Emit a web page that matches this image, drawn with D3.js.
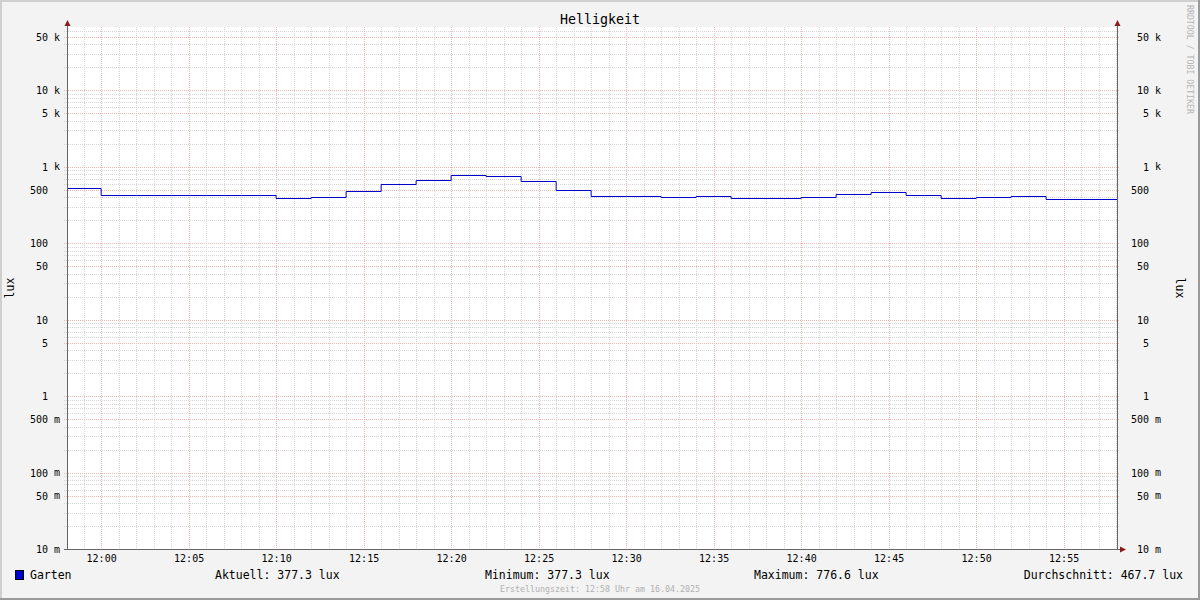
<!DOCTYPE html>
<html><head><meta charset="utf-8">
<script src="https://cdn.jsdelivr.net/npm/d3@7"></script>
<style>
html,body{margin:0;padding:0;background:#f3f3f3;}
svg{display:block;}
text{font-family:"DejaVu Sans Mono",monospace;}
</style></head>
<body>
<svg id="chart" width="1200" height="600"></svg>
<script>
// ---- data ----
const title = "Helligkeit";
const unitLabel = "lux";
const seriesName = "Garten";
const stepStarts = ["11:58","12:00","12:02","12:04","12:06","12:08","12:10","12:12","12:14","12:16",
  "12:18","12:20","12:22","12:24","12:26","12:28","12:30","12:32","12:34","12:36",
  "12:38","12:40","12:42","12:44","12:46","12:48","12:50","12:52","12:54","12:56"];
const luxValues = [522,428,428,428,428,428,388,400,483,591,
  667,776.6,759,647,493,416,416,403,413,388,
  388,400,437,465,428,388,403,416,377.3,377.3];
const yTickValues = [0.01,0.05,0.1,0.5,1,5,10,50,100,500,1000,5000,10000,50000];
const xTickLabels = ["12:00","12:05","12:10","12:15","12:20","12:25","12:30","12:35","12:40","12:45","12:50","12:55"];
const legendStats = [["Aktuell","377.3 lux"],["Minimum","377.3 lux"],["Maximum","776.6 lux"],["Durchschnitt","467.7 lux"]];
const footer = "Erstellungszeit: 12:58 Uhr am 16.04.2025";
const watermark = "RRDTOOL / TOBI OETIKER";
const timeStart = "11:58:03", timeEnd = "12:58:03";

// ---- layout ----
const W = 1200, H = 600;
const L = 67, R = 1117, T = 27, B = 549;
const svg = d3.select("#chart");
const parse = d3.timeParse("%Y-%m-%d %H:%M:%S");
const toDate = s => parse("2025-04-16 " + (s.length === 5 ? s + ":00" : s));

// background + border
svg.append("rect").attr("width", W).attr("height", H).attr("fill", "#f3f3f3");
svg.append("path").attr("d", `M1,${H} V1 H${W}`).attr("stroke", "#cfcfcf").attr("stroke-width", 2).attr("fill", "none");
svg.append("path").attr("d", `M0,${H-1} H${W-1} V0`).attr("stroke", "#9a9a9a").attr("stroke-width", 2).attr("fill", "none");
svg.append("rect").attr("x", L).attr("y", T).attr("width", R - L).attr("height", B - T).attr("fill", "#ffffff");

const x = d3.scaleTime().domain([toDate(timeStart), toDate(timeEnd)]).range([L, R]);
const y = d3.scaleLog().domain([0.01, 67600]).range([B, T]);

const minorCol = "#d6d6d6", majorCol = "#ebb8b8";
// minor horizontal grid
const minorY = [];
for (let e = -2; e <= 4; e++) for (let m = 2; m <= 9; m++) {
  const v = m * Math.pow(10, e);
  if (m !== 5 && v < y.domain()[1]) minorY.push(v);
}
const g = svg.append("g");
g.selectAll("line.hmin").data(minorY).join("line")
  .attr("x1", L - 3).attr("x2", R + 3)
  .attr("y1", d => Math.round(y(d)) + 0.5).attr("y2", d => Math.round(y(d)) + 0.5)
  .attr("stroke", minorCol).attr("stroke-dasharray", "1,1");
// minor vertical grid (each minute)
const minutes = d3.timeMinute.range(x.domain()[0], x.domain()[1]).filter(d => d.getMinutes() % 5 !== 0);
g.selectAll("line.vmin").data(minutes).join("line")
  .attr("x1", d => Math.round(x(d)) + 0.5).attr("x2", d => Math.round(x(d)) + 0.5)
  .attr("y1", T).attr("y2", B)
  .attr("stroke", minorCol).attr("stroke-dasharray", "1,1");
// major grid
const majorX = xTickLabels.map(toDate);
g.selectAll("line.vmaj").data(majorX).join("line")
  .attr("x1", d => Math.round(x(d)) + 0.5).attr("x2", d => Math.round(x(d)) + 0.5)
  .attr("y1", T).attr("y2", B)
  .attr("stroke", majorCol).attr("stroke-dasharray", "1,1");
g.selectAll("line.hmaj").data(yTickValues).join("line")
  .attr("x1", L - 3).attr("x2", R + 3)
  .attr("y1", d => Math.round(y(d)) + 0.5).attr("y2", d => Math.round(y(d)) + 0.5)
  .attr("stroke", majorCol).attr("stroke-dasharray", "1,1");

// data line
const pts = stepStarts.map((s, i) => [toDate(s), luxValues[i]]);
pts.push([x.domain()[1], luxValues[luxValues.length - 1]]);
svg.append("clipPath").attr("id", "clip").append("rect").attr("x", L).attr("y", T).attr("width", R - L).attr("height", B - T);
svg.append("path").datum(pts)
  .attr("clip-path", "url(#clip)")
  .attr("d", d3.line().x(d => x(d[0])).y(d => Math.round(y(d[1])) + 0.5).curve(d3.curveStepAfter))
  .attr("fill", "none").attr("stroke", "#0000cc").attr("stroke-width", 1);

// axes lines
const axisCol = "#666666", arrowCol = "#8b1a1a";
svg.append("line").attr("x1", L + 0.5).attr("x2", L + 0.5).attr("y1", 24).attr("y2", B).attr("stroke", axisCol);
svg.append("line").attr("x1", R + 0.5).attr("x2", R + 0.5).attr("y1", 24).attr("y2", B).attr("stroke", axisCol);
svg.append("line").attr("x1", L - 3).attr("x2", R + 4).attr("y1", B + 0.5).attr("y2", B + 0.5).attr("stroke", axisCol);
[L, R].forEach(ax => svg.append("path").attr("d", `M${ax + 0.5 - 3},26 L${ax + 0.5 + 3},26 L${ax + 0.5},20 Z`).attr("fill", arrowCol));
svg.append("path").attr("d", `M${R + 3},${B + 0.5 - 3} L${R + 3},${B + 0.5 + 3} L${R + 9},${B + 0.5} Z`).attr("fill", arrowCol);

// y axis labels (through d3 axes)
const fmtNum = v => {
  if (v >= 1000) return [String(v / 1000), "k"];
  if (v < 1) return [String(Math.round(v * 1000)), "m"];
  return [String(v), ""];
};
function yLabels(side) {
  const ax = (side === "left" ? d3.axisLeft(y) : d3.axisRight(y))
    .tickValues(yTickValues).tickSize(0).tickFormat(d => fmtNum(d)[0]);
  const gg = svg.append("g")
    .attr("transform", side === "left" ? `translate(48,0)` : `translate(1149,0)`)
    .call(ax);
  gg.attr("fill", "#000");
  gg.select(".domain").remove();
  gg.selectAll(".tick text").attr("x", 0).attr("text-anchor", "end")
    .attr("font-family", "DejaVu Sans Mono").attr("font-size", 10).attr("fill", "#000").attr("dy", "0.35em");
  // unit suffixes
  const base = side === "left" ? 54 : 1155;
  svg.append("g").style("opacity", 0.99).selectAll("text").data(yTickValues.filter(d => fmtNum(d)[1])).join("text")
    .attr("x", base).attr("y", d => y(d)).attr("dy", "0.35em")
    .attr("font-size", 10).attr("fill", "#000").text(d => fmtNum(d)[1]);
}
yLabels("left"); yLabels("right");

// x axis labels
const xAx = d3.axisBottom(x).tickValues(majorX).tickSize(0).tickFormat(d3.timeFormat("%H:%M"));
const gx = svg.append("g").attr("transform", `translate(0,${B})`).call(xAx);
gx.attr("fill", "#000");
gx.select(".domain").remove();
gx.selectAll(".tick text").attr("y", 13).attr("dy", 0)
  .attr("font-family", "DejaVu Sans Mono").attr("font-size", 10).attr("fill", "#000");

// title
svg.append("text").attr("x", 600).attr("y", 24).attr("text-anchor", "middle")
  .attr("font-size", 13.3).attr("fill", "#000").text(title);
// unit labels
svg.append("text").attr("transform", "translate(14,288) rotate(-90)").attr("text-anchor", "middle")
  .attr("font-size", 11.5).attr("fill", "#000").text(unitLabel);
svg.append("text").attr("transform", "translate(1176,288) rotate(90)").attr("text-anchor", "middle")
  .attr("font-size", 11.5).attr("fill", "#000").text(unitLabel);
// watermark
svg.append("text").attr("transform", "translate(1187,5) rotate(90)").attr("text-anchor", "start")
  .attr("font-size", 8.2).attr("fill", "#b4b4b4").attr("textLength", 109).text(watermark);

// legend
svg.append("rect").attr("x", 15.5).attr("y", 570.5).attr("width", 8).attr("height", 9)
  .attr("fill", "#0000cc").attr("stroke", "#000");
svg.append("text").attr("x", 30).attr("y", 579).attr("font-size", 11.5).attr("fill", "#000").text(seriesName);
const statX = [215, 485, 754, null];
legendStats.forEach((s, i) => {
  const t = svg.append("text").attr("y", 579).attr("font-size", 11.5).attr("fill", "#000").text(s[0] + ": " + s[1]);
  if (statX[i] !== null) t.attr("x", statX[i]); else t.attr("x", 1183).attr("text-anchor", "end");
});
svg.append("text").attr("x", 600).attr("y", 592).attr("text-anchor", "middle")
  .attr("font-size", 8.3).attr("fill", "#b0b0b0").text(footer);
</script>
</body></html>
